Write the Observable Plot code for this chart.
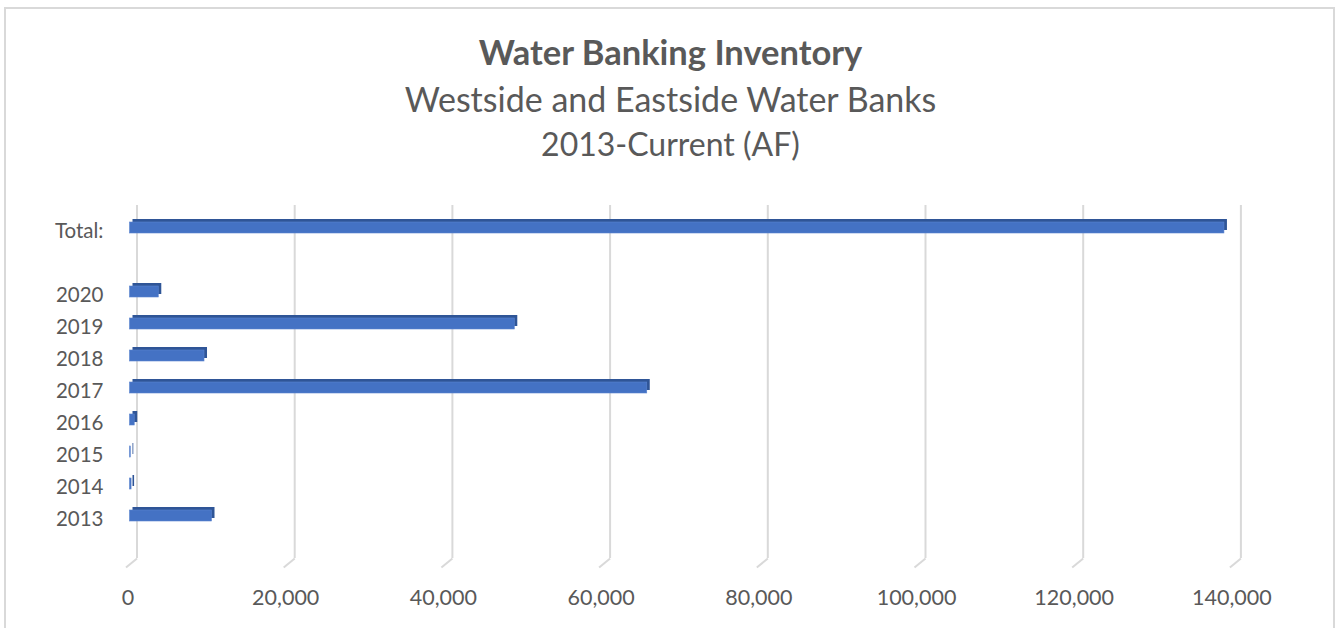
<!DOCTYPE html>
<html>
<head>
<meta charset="utf-8">
<script src="https://cdn.jsdelivr.net/npm/d3@7"></script>
<script src="https://cdn.jsdelivr.net/npm/@observablehq/plot@0.6"></script>
<style>
  html, body { margin: 0; padding: 0; background: #fff; }
  #wrap { position: relative; width: 1341px; height: 628px; overflow: hidden; background: #fff; font-family: Lato, "Open Sans", sans-serif; }
  #frame { position: absolute; left: 4px; top: 7px; width: 1331px; height: 700px; border: 2px solid #d9d9d9; box-sizing: border-box; }
  .t { position: absolute; left: 0; width: 1341px; text-align: center; color: #595959; white-space: nowrap; }
  #title { top: 35px; font-size: 34.5px; line-height: 34.5px; font-weight: 700; }
  #sub1 { top: 82px; font-size: 34px; line-height: 34px; }
  #sub2 { top: 128px; font-size: 32px; line-height: 32px; }
  #chart { position: absolute; left: 0; top: 190px; }
</style>
</head>
<body>
<div id="wrap">
  <div id="frame"></div>
  <div class="t" id="title">Water Banking Inventory</div>
  <div class="t" id="sub1">Westside and Eastside Water Banks</div>
  <div class="t" id="sub2">2013-Current (AF)</div>
  <div id="chart"></div>
</div>
<script>
// ---- data ----
const categories = ["Total:", " ", "2020", "2019", "2018", "2017", "2016", "2015", "2014", "2013"];
const barLabels = ["Total:", "2020", "2019", "2018", "2017", "2016", "2015", "2014", "2013"];
const barValues = [138800, 3650, 48800, 9450, 65600, 600, 100, 200, 10400];
const xTicks = [0, 20000, 40000, 60000, 80000, 100000, 120000, 140000];

const data = barLabels.map((c, i) => ({category: c, value: barValues[i]}));

// small diagonal "floor" segment at the foot of each gridline
const floorSymbol = {
  draw(ctx) {
    ctx.moveTo(5.5, -4.5);
    ctx.lineTo(-5.5, 4.5);
  }
};

const chart = Plot.plot({
  width: 1341,
  height: 438,
  marginLeft: 129.5,
  marginRight: 107.6,
  marginTop: 21,
  marginBottom: 97,
  x: {domain: [0, 140000], label: null},
  y: {domain: categories, padding: 0, label: null},
  style: {fontFamily: "Lato, 'Open Sans', sans-serif", fontSize: "20px", color: "#595959", background: "transparent"},
  marks: [
    Plot.ruleX(xTicks, {x: d => d, stroke: "#d9d9d9", strokeWidth: 2, dx: 7, insetTop: -6, insetBottom: -27}),
    Plot.dot(xTicks, {x: d => d, frameAnchor: "bottom", dx: 1.5, dy: 31.5, symbol: floorSymbol, stroke: "#d9d9d9", strokeWidth: 2, fill: "none"}),
    Plot.barX(data, {x: "value", y: "category", fill: "#2f5597", dx: 3, dy: -3, insetTop: 11, insetBottom: 10}),
    Plot.barX(data, {x: "value", y: "category", fill: "#4472C4", stroke: "#5b84cf", strokeWidth: 0.6, insetTop: 11, insetBottom: 10}),
    Plot.axisX({ticks: xTicks, tickSize: 0, tickPadding: 58, dx: -2, tickFormat: d3.format(","), fontSize: 21.5, label: null}),
    Plot.axisY({tickSize: 0, tickPadding: 26.5, dy: 4, fontSize: 20.5, label: null})
  ]
});
document.getElementById("chart").appendChild(chart);
</script>
</body>
</html>
